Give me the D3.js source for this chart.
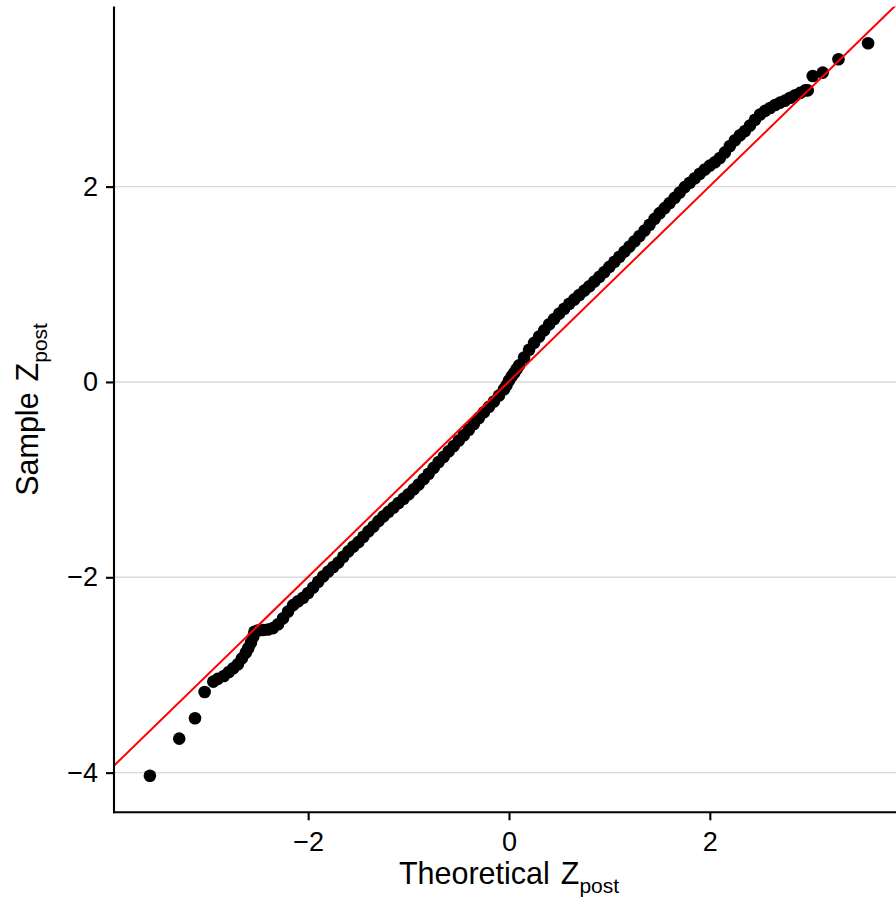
<!DOCTYPE html>
<html>
<head>
<meta charset="utf-8">
<script src="https://cdn.jsdelivr.net/npm/d3@7"></script>
<style>
  html, body { margin: 0; padding: 0; background: #ffffff; }
  svg { display: block; font-family: "Liberation Sans", Arial, Helvetica, sans-serif; }
</style>
</head>
<body>
<svg id="chart" width="896" height="904"></svg>
<script>
// Normal Q-Q plot of the post-period Z scores
const theoretical = [
  -3.576, -3.284, -3.127, -3.031, -2.945, -2.900, -2.839, -2.790, -2.746, -2.700,
  -2.660, -2.620, -2.597, -2.570, -2.547, -2.535, -2.500, -2.450, -2.400, -2.350,
  -2.300, -2.250, -2.200, -2.150, -2.100, -2.050, -2.000, -1.950, -1.900, -1.850,
  -1.800, -1.750, -1.700, -1.650, -1.600, -1.550, -1.500, -1.450, -1.400, -1.350,
  -1.300, -1.250, -1.200, -1.150, -1.100, -1.050, -1.000, -0.950, -0.900, -0.850,
  -0.800, -0.750, -0.700, -0.650, -0.600, -0.550, -0.500, -0.450, -0.400, -0.350,
  -0.300, -0.250, -0.200, -0.150, -0.100, -0.050, -0.025, 0.000, 0.025, 0.050,
  0.075, 0.100, 0.150, 0.200, 0.250, 0.300, 0.350, 0.400, 0.450, 0.500,
  0.550, 0.600, 0.650, 0.700, 0.750, 0.800, 0.850, 0.900, 0.950, 1.000,
  1.050, 1.100, 1.150, 1.200, 1.250, 1.300, 1.350, 1.400, 1.450, 1.500,
  1.550, 1.600, 1.650, 1.700, 1.750, 1.800, 1.850, 1.900, 1.950, 2.000,
  2.050, 2.100, 2.150, 2.200, 2.250, 2.300, 2.350, 2.400, 2.450, 2.500,
  2.550, 2.600, 2.650, 2.700, 2.750, 2.800, 2.850, 2.900, 2.950, 2.975,
  3.025, 3.124, 3.281, 3.576
];
const sample = [
  -4.031, -3.652, -3.443, -3.174, -3.068, -3.040, -3.010, -2.970, -2.931, -2.890,
  -2.830, -2.770, -2.727, -2.670, -2.608, -2.557, -2.545, -2.540, -2.535, -2.520,
  -2.480, -2.420, -2.350, -2.285, -2.245, -2.210, -2.160, -2.105, -2.045, -1.990,
  -1.940, -1.895, -1.850, -1.790, -1.735, -1.685, -1.640, -1.585, -1.530, -1.480,
  -1.425, -1.375, -1.330, -1.285, -1.240, -1.195, -1.150, -1.100, -1.050, -0.995,
  -0.940, -0.880, -0.820, -0.765, -0.710, -0.655, -0.600, -0.545, -0.490, -0.430,
  -0.370, -0.310, -0.255, -0.200, -0.140, -0.075, -0.035, 0.015, 0.055, 0.090,
  0.130, 0.170, 0.250, 0.330, 0.400, 0.465, 0.528, 0.590, 0.645, 0.700,
  0.750, 0.800, 0.845, 0.890, 0.935, 0.980, 1.028, 1.076, 1.126, 1.178,
  1.230, 1.282, 1.334, 1.386, 1.440, 1.495, 1.550, 1.610, 1.670, 1.728,
  1.780, 1.832, 1.885, 1.940, 1.995, 2.040, 2.085, 2.132, 2.175, 2.215,
  2.250, 2.293, 2.350, 2.415, 2.475, 2.525, 2.570, 2.625, 2.685, 2.738,
  2.775, 2.805, 2.835, 2.860, 2.880, 2.910, 2.935, 2.960, 2.985, 2.985,
  3.133, 3.167, 3.304, 3.468
];

// Reference line through the quartiles
const lineSlope = 1.0;
const lineIntercept = 0.005;

const xTickValues = [-2, 0, 2];
const yTickValues = [-4, -2, 0, 2];
const xTitle = "Theoretical";
const yTitle = "Sample";
const titleSymbol = "Z";
const titleSubscript = "post";

const points = theoretical.map((t, i) => ({ t, s: sample[i] }));

const svg = d3.select("#chart");
const panel = { left: 114, right: 904, top: 6.6, bottom: 812.3 };

// 5% expansion of the data range on each side
function expand(ext) {
  const pad = (ext[1] - ext[0]) * 0.05;
  return [ext[0] - pad, ext[1] + pad];
}
const x = d3.scaleLinear().domain(expand(d3.extent(theoretical))).range([panel.left, panel.right]);
const y = d3.scaleLinear().domain(expand(d3.extent(sample))).range([panel.bottom, panel.top]);

const fmt = d => (d < 0 ? "\u2212" + Math.abs(d) : String(d));

svg.append("defs").append("clipPath").attr("id", "panel-clip")
  .append("rect")
  .attr("x", panel.left).attr("y", panel.top)
  .attr("width", panel.right - panel.left).attr("height", panel.bottom - panel.top);

// horizontal grid
svg.append("g")
  .selectAll("line")
  .data(yTickValues)
  .join("line")
  .attr("x1", panel.left).attr("x2", panel.right)
  .attr("y1", d => y(d)).attr("y2", d => y(d))
  .attr("stroke", "#d9d9d9").attr("stroke-width", 1.4);

// sample quantiles
svg.append("g")
  .attr("clip-path", "url(#panel-clip)")
  .selectAll("circle")
  .data(points)
  .join("circle")
  .attr("cx", d => x(d.t))
  .attr("cy", d => y(d.s))
  .attr("r", 6.3)
  .attr("fill", "#000000");

// reference line
const [x0, x1] = x.domain();
svg.append("line")
  .attr("clip-path", "url(#panel-clip)")
  .attr("x1", x(x0)).attr("y1", y(lineIntercept + lineSlope * x0))
  .attr("x2", x(x1)).attr("y2", y(lineIntercept + lineSlope * x1))
  .attr("stroke", "#ff0000").attr("stroke-width", 2);

// axes
const xAxis = svg.append("g")
  .attr("transform", `translate(0,${panel.bottom})`)
  .call(d3.axisBottom(x).tickValues(xTickValues).tickFormat(fmt).tickSize(8).tickPadding(12).tickSizeOuter(0));
const yAxis = svg.append("g")
  .attr("transform", `translate(${panel.left},0)`)
  .call(d3.axisLeft(y).tickValues(yTickValues).tickFormat(fmt).tickSize(8).tickPadding(8).tickSizeOuter(0));

[xAxis, yAxis].forEach(g => {
  g.select(".domain").attr("stroke", "#000").attr("stroke-width", 2.1);
  g.selectAll(".tick line").attr("stroke", "#000").attr("stroke-width", 2.1);
  g.selectAll(".tick text")
    .attr("fill", "#000")
    .style("font-size", "27px")
    .style("font-family", "'Liberation Sans', Arial, sans-serif");
});
xAxis.select(".domain").attr("d", `M${panel.left - 1},0H${896}`);
yAxis.select(".domain").attr("d", `M0,${panel.top}V${panel.bottom + 1}`);
xAxis.selectAll(".tick text").attr("dy", "0.71em");

// axis titles with subscripted symbol
function title(sel) {
  sel.style("font-size", "30.5px").attr("fill", "#000");
  sel.append("tspan").text(sel.datum());
  sel.append("tspan").attr("dx", 11).text(titleSymbol);
  sel.append("tspan").attr("dy", 9).style("font-size", "21px").text(titleSubscript);
}
const cx = (panel.left + panel.right) / 2;
svg.append("text").datum(xTitle)
  .attr("x", cx).attr("y", 883.5)
  .attr("text-anchor", "middle")
  .call(title);

const cy = (panel.top + panel.bottom) / 2;
svg.append("text").datum(yTitle)
  .attr("transform", `translate(37.5,${cy}) rotate(-90)`)
  .attr("text-anchor", "middle")
  .call(title);
</script>
</body>
</html>
